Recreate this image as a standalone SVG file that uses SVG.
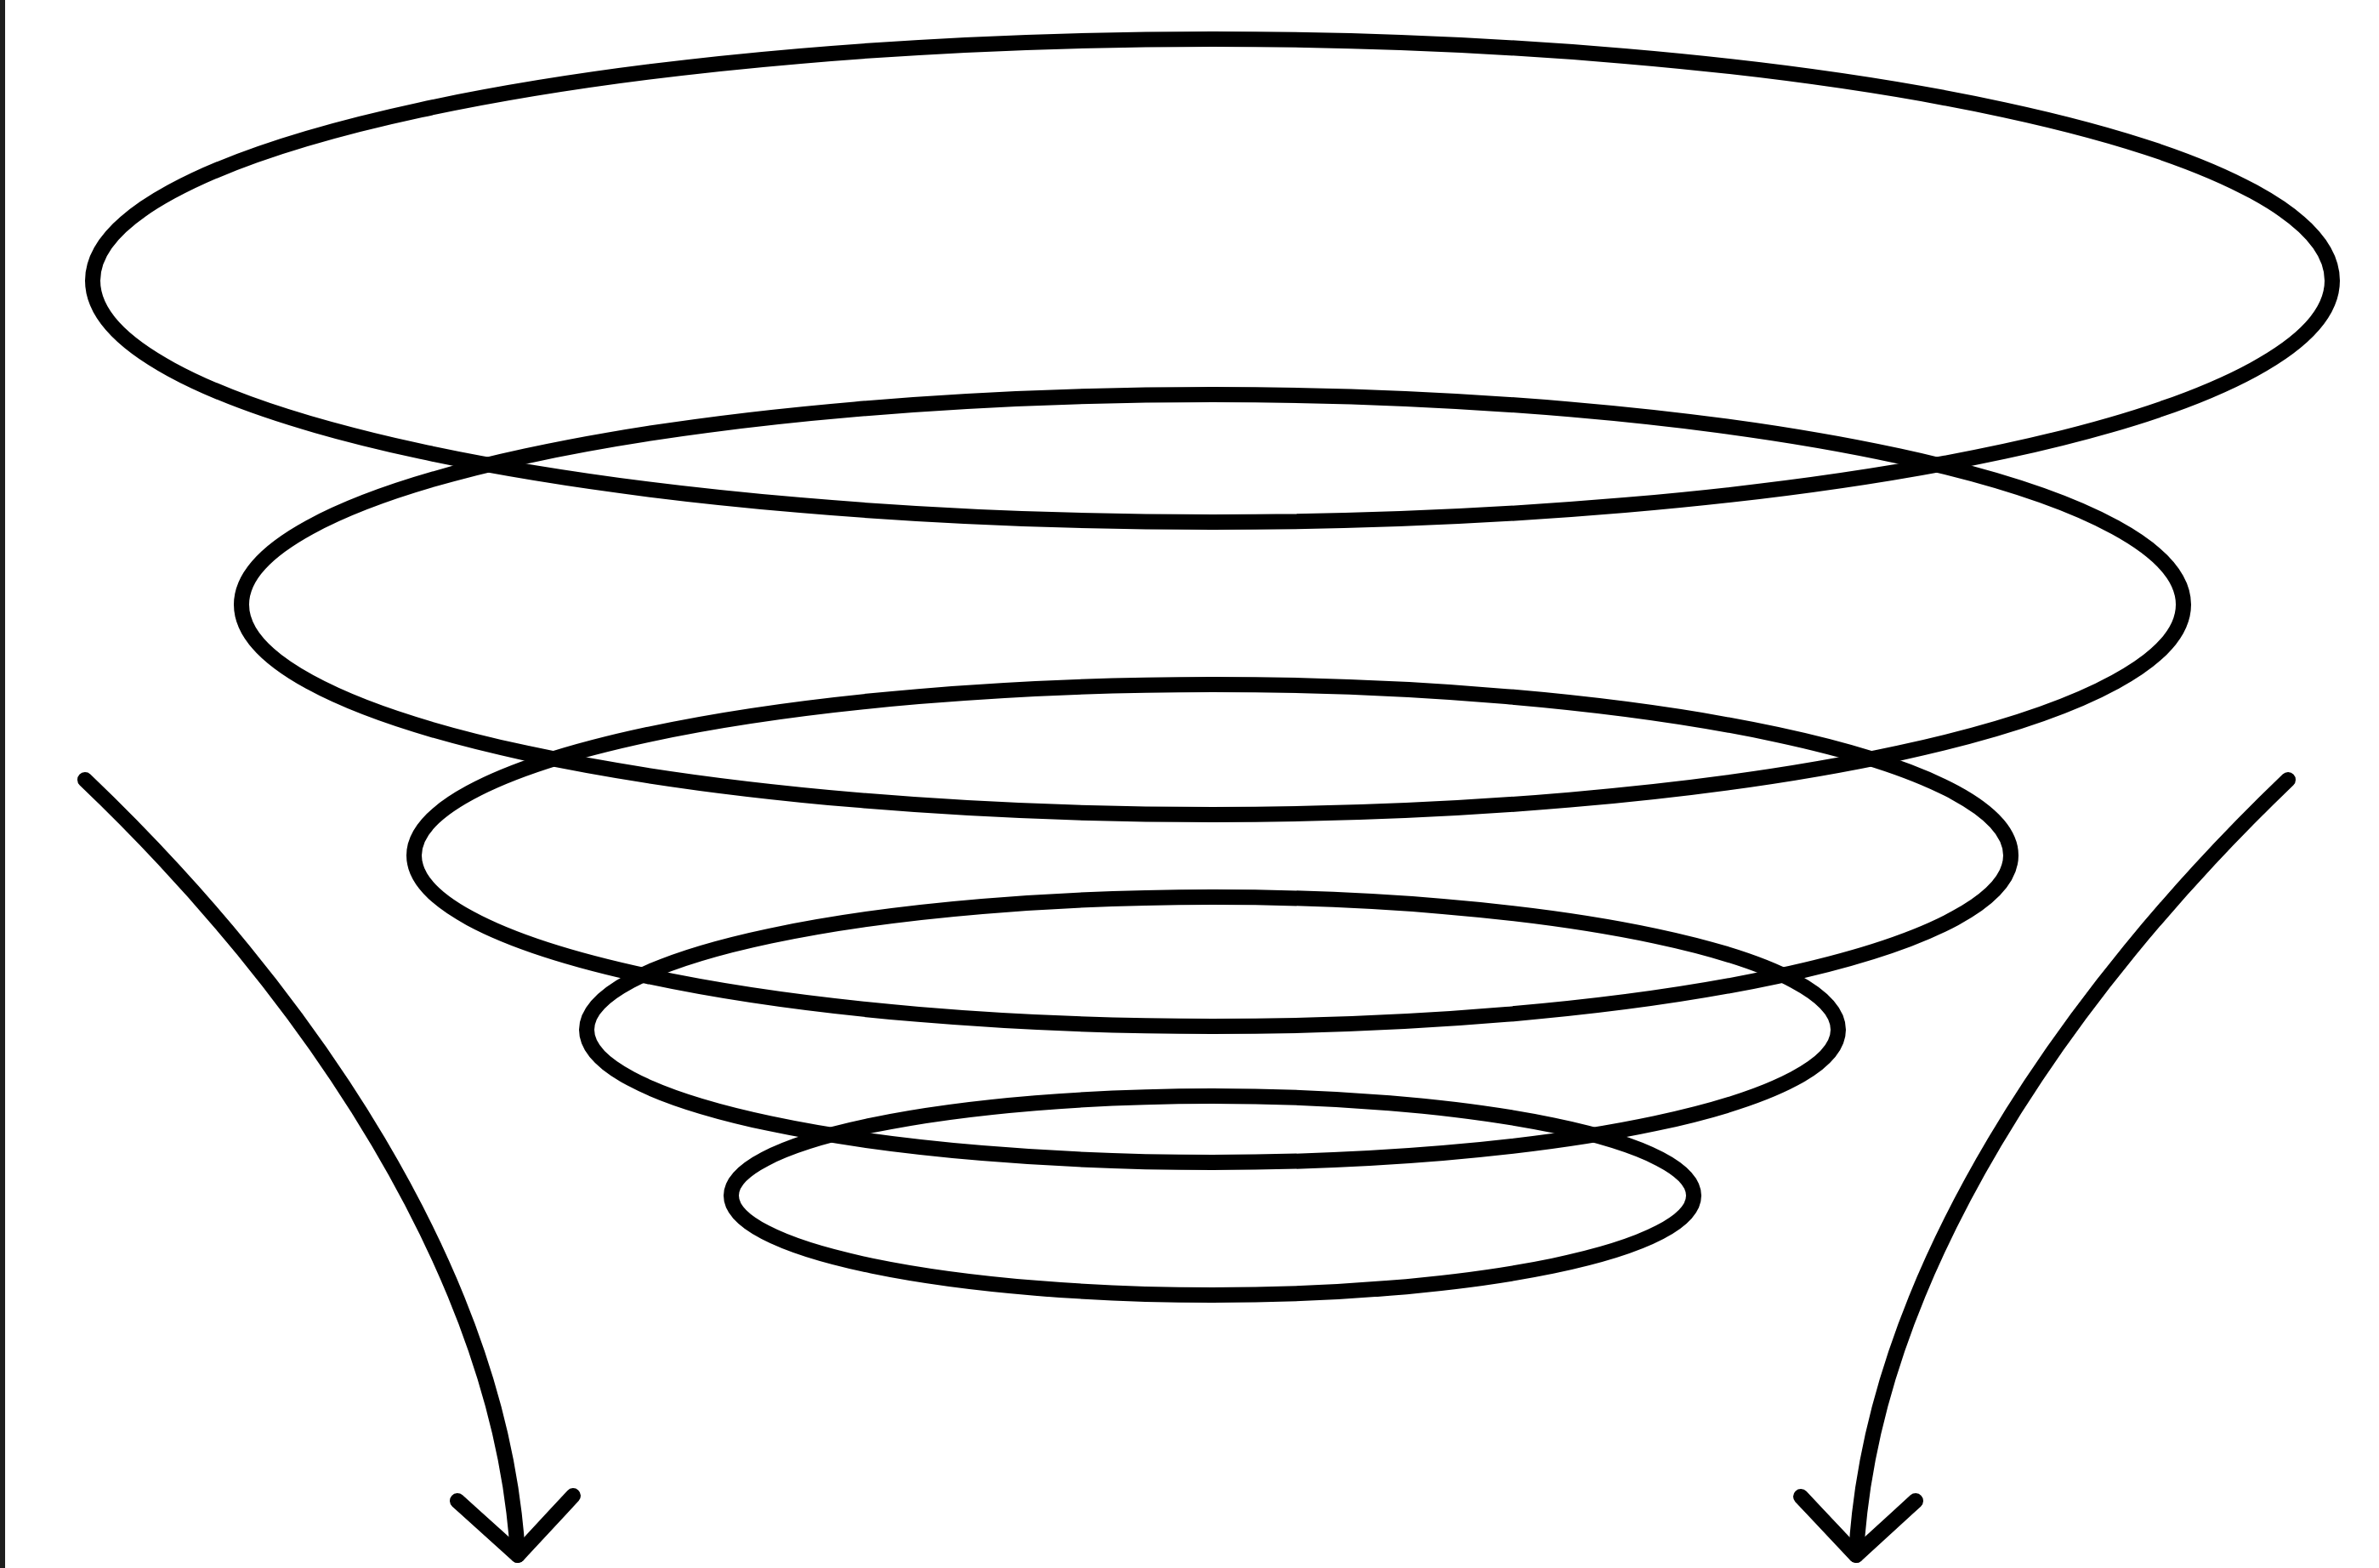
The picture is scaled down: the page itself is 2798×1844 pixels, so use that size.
<svg xmlns="http://www.w3.org/2000/svg" width="2798" height="1844" viewBox="0 0 2798 1844">
<style>
.ring{fill:none;stroke:#000;stroke-width:18}
.arr{fill:none;stroke:#000;stroke-width:18;stroke-linecap:round;stroke-linejoin:round}
</style>
<rect x="0" y="0" width="2798" height="1844" fill="#fff"/>
<rect x="0" y="0" width="6" height="1844" fill="#1e1e1e"/>
<g id="ring1"><ellipse class="ring" cx="1426" cy="330" rx="1317" ry="284"/></g>
<g id="ring2"><ellipse class="ring" cx="1426" cy="711" rx="1142" ry="247"/></g>
<g id="ring3"><ellipse class="ring" cx="1426" cy="1006" rx="939" ry="201"/></g>
<g id="ring4"><ellipse class="ring" cx="1426" cy="1211" rx="736" ry="156"/></g>
<g id="ring5"><ellipse class="ring" cx="1426" cy="1406" rx="566" ry="117"/></g>
<g id="connectors">
<path class="arr" d="M100,917 C360,1165 590,1500 609,1829"/>
<path class="arr" d="M538,1765 L609,1829 L674,1759"/>
<path class="arr" d="M2691,917 C2432,1165 2200,1500 2183,1829"/>
<path class="arr" d="M2118,1760 L2183,1829 L2253,1765"/>
</g>
</svg>
